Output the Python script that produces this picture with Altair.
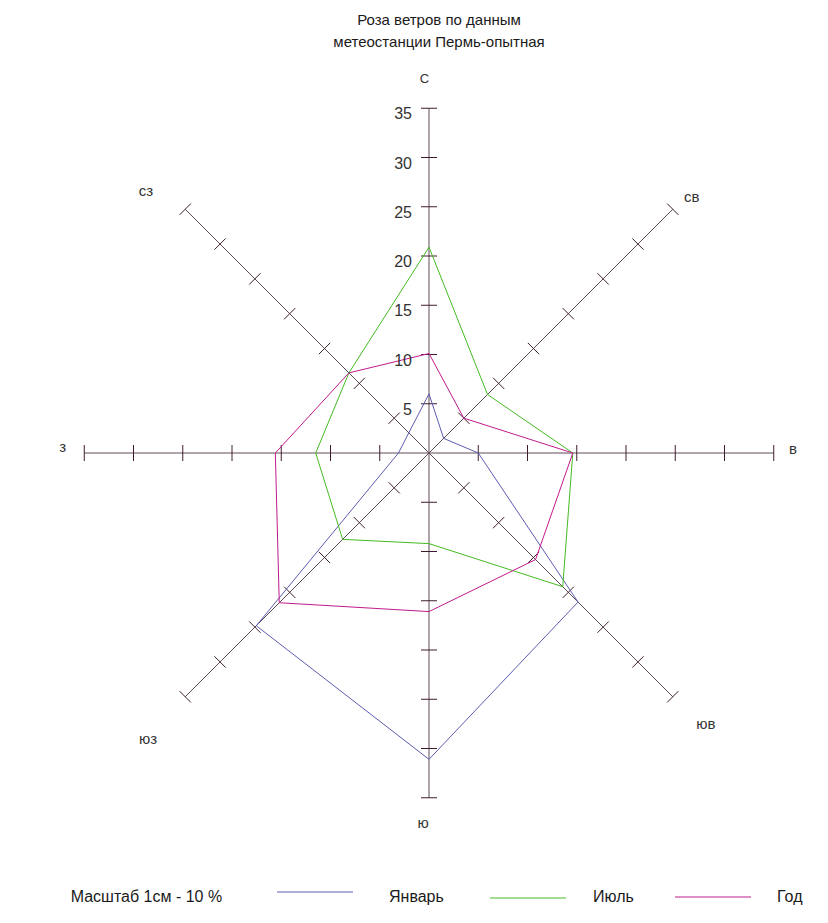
import math
import altair as alt
import pandas as pd

# ---------------- data ----------------
DIRECTIONS = ["С", "св", "в", "юв", "ю", "юз", "з", "сз"]
DIR_ANGLES = [0, 45, 90, 135, 180, 225, 270, 315]  # clockwise from north
SERIES = ["Январь", "Июль", "Год"]
JANUARY = [6.0, 2.1, 5.0, 21.4, 31.1, 24.8, 3.1, 2.9]
JULY = [20.9, 8.4, 14.6, 19.2, 9.2, 12.4, 11.5, 11.5]
YEAR = [10.1, 5.0, 14.6, 15.3, 16.1, 21.5, 15.6, 11.5]
TICK_VALUES = [5, 10, 15, 20, 25, 30, 35]
AXIS_MAX = 35
TITLE_LINES = ["Роза ветров по данным", "метеостанции Пермь-опытная"]
SCALE_NOTE = "Масштаб 1см - 10 %"

# ---------------- layout / style ----------------
COLORS = ["#5c5cb0", "#44bb22", "#c21a8e"]
AXIS_COLOR = "#5e4a54"
TICK_COLOR = "#3c1c2c"
TEXT_COLOR = "#1a1a1a"
LABEL_COLOR = "#333333"
FONT = "Arial, Liberation Sans, sans-serif"

PX = 9.85             # pixels per unit (percent)
W, H = 810, 900       # plot area
CX, CY = 421, 445     # centre of the rose inside the plot area (px)
TICK_HALF = 8 / PX
LABEL_ANGLE = [359.3, 45.7, 89.4, 134.4, 180.9, 224.5, 271.0, 312.8]
LABEL_RADIUS = [37.97, 37.26, 36.96, 39.34, 37.57, 40.7, 37.19, 39.18]
LABEL_SIZE = [13, 15, 15, 15, 15, 15, 15, 15]
LEGEND_LINE_X = [269, 482, 667]
LEGEND_LINE_Y = [884, 890, 889]
LEGEND_TEXT_X = [381, 585, 769]
LEGEND_BASELINE = 894
NOTE_X = 62.7
TITLE_X = 431
TITLE_BASELINES = [17, 38.5]

xs = alt.Scale(domain=[-CX / PX, (W - CX) / PX], nice=False, zero=False)
ys = alt.Scale(domain=[-(H - CY) / PX, CY / PX], nice=False, zero=False)


def pol(r, deg):
    a = math.radians(deg)
    return r * math.sin(a), r * math.cos(a)


# polygons
rows = []
for s, vals in zip(SERIES, [JANUARY, JULY, YEAR]):
    for i in range(len(DIRECTIONS) + 1):
        k = i % len(DIRECTIONS)
        x, y = pol(vals[k], DIR_ANGLES[k])
        rows.append({"series": s, "order": i, "x": x, "y": y})
poly_df = pd.DataFrame(rows)

# axis lines
ax_rows = []
for deg in DIR_ANGLES[:4]:
    x1, y1 = pol(AXIS_MAX, deg)
    ax_rows.append({"x": -x1, "y": -y1, "x2": x1, "y2": y1})
axis_df = pd.DataFrame(ax_rows)

# tick marks
tk_rows = []
for deg in DIR_ANGLES:
    a = math.radians(deg)
    for v in TICK_VALUES:
        cx, cy = pol(v, deg)
        px, py = math.cos(a) * TICK_HALF, -math.sin(a) * TICK_HALF
        tk_rows.append({"x": cx - px, "y": cy - py, "x2": cx + px, "y2": cy + py})
tick_df = pd.DataFrame(tk_rows)

# value labels on north axis
num_df = pd.DataFrame({"v": TICK_VALUES, "x": [0.0] * len(TICK_VALUES),
                       "label": [str(v) for v in TICK_VALUES]})

# direction labels
lab_rows = []
for name, deg, r, fs in zip(DIRECTIONS, LABEL_ANGLE, LABEL_RADIUS, LABEL_SIZE):
    x, y = pol(r, deg)
    lab_rows.append({"name": name, "x": x, "y": y, "fs": fs})
lab_df = pd.DataFrame(lab_rows)

X = lambda f="x:Q": alt.X(f, scale=xs, axis=None)
Y = lambda f="y:Q": alt.Y(f, scale=ys, axis=None)

axes = alt.Chart(axis_df).mark_rule(color=AXIS_COLOR, strokeWidth=1).encode(
    x=X(), y=Y(), x2="x2:Q", y2="y2:Q")
ticks = alt.Chart(tick_df).mark_rule(color=TICK_COLOR, strokeWidth=1).encode(
    x=X(), y=Y(), x2="x2:Q", y2="y2:Q")
lines = alt.Chart(poly_df).mark_line(strokeWidth=1).encode(
    x=X(), y=Y(),
    color=alt.Color("series:N", scale=alt.Scale(domain=SERIES, range=COLORS), legend=None),
    order="order:Q", detail="series:N")
nums = alt.Chart(num_df).mark_text(align="right", baseline="middle", dx=-17, dy=6,
                                   fontSize=16, font=FONT, color=LABEL_COLOR).encode(
    x=X(), y=Y("v:Q"), text="label:N")
dirs = alt.Chart(lab_df).mark_text(align="center", baseline="middle", font=FONT,
                                   color=LABEL_COLOR).encode(
    x=X(), y=Y(), text="name:N", size=alt.Size("fs:Q", scale=None, legend=None))

one = pd.DataFrame({"a": [0]})
layers = [axes, ticks, lines, nums, dirs]

for t, yb in zip(TITLE_LINES, TITLE_BASELINES):
    layers.append(alt.Chart(one).mark_text(text=t, align="center", baseline="alphabetic",
                                           fontSize=15, font=FONT, color=TEXT_COLOR).encode(
        x=alt.value(TITLE_X), y=alt.value(yb)))

layers.append(alt.Chart(one).mark_text(text=SCALE_NOTE, align="left", baseline="alphabetic",
                                       fontSize=16, font=FONT, color=TEXT_COLOR).encode(
    x=alt.value(NOTE_X), y=alt.value(LEGEND_BASELINE)))

for s, c, lx, ly, tx in zip(SERIES, COLORS, LEGEND_LINE_X, LEGEND_LINE_Y, LEGEND_TEXT_X):
    layers.append(alt.Chart(one).mark_rule(color=c, strokeWidth=1).encode(
        x=alt.value(lx), x2=alt.value(lx + 76), y=alt.value(ly)))
    layers.append(alt.Chart(one).mark_text(text=s, align="left", baseline="alphabetic",
                                           fontSize=16, font=FONT, color=TEXT_COLOR).encode(
        x=alt.value(tx), y=alt.value(LEGEND_BASELINE)))

chart = alt.layer(*layers).properties(
    width=W, height=H, padding=0, autosize="none", background="white"
).configure_view(stroke=None)

chart.save("out.html", embed_options={"renderer": "svg", "actions": False})
